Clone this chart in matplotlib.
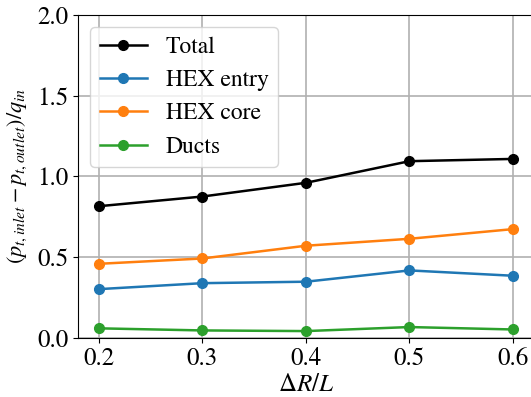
import matplotlib
matplotlib.use('Agg')
import matplotlib.pyplot as plt

plt.rcParams['font.family'] = 'STIXGeneral'
plt.rcParams['mathtext.fontset'] = 'stix'
plt.rcParams['font.size'] = 18

dr_l = [0.2, 0.3, 0.4, 0.5, 0.6]
total = [0.815, 0.875, 0.96, 1.094, 1.108]
hex_entry = [0.301, 0.338, 0.347, 0.417, 0.384]
hex_core = [0.458, 0.491, 0.570, 0.613, 0.673]
ducts = [0.058, 0.045, 0.041, 0.066, 0.051]

fig = plt.figure(figsize=(5.31, 3.97), dpi=100)
ax = fig.add_axes([78.3 / 531, 1 - 337.7 / 397, (533.6 - 78.3) / 531, (337.7 - 15) / 397])

ax.plot(dr_l, total, '-o', color='black', lw=1.8, ms=7, label='Total')
ax.plot(dr_l, hex_entry, '-o', color='tab:blue', lw=1.8, ms=7, label='HEX entry')
ax.plot(dr_l, hex_core, '-o', color='tab:orange', lw=1.8, ms=7, label='HEX core')
ax.plot(dr_l, ducts, '-o', color='tab:green', lw=1.8, ms=7, label='Ducts')

ax.set_xlim(0.18, 0.62)
ax.set_ylim(0, 2.0)
ax.set_xticks([0.2, 0.3, 0.4, 0.5, 0.6])
ax.set_yticks([0.0, 0.5, 1.0, 1.5, 2.0])
ax.grid(True, lw=1.2)
ax.set_axisbelow(True)

ax.set_xlabel(r'$\Delta R/L$', labelpad=1)
ax.set_ylabel(r'$(p_{t,inlet}-p_{t,outlet})/q_{in}$', fontsize=16, labelpad=6)
ax.legend(loc='upper left', fontsize=17)

fig.savefig('out.png', dpi=100)
